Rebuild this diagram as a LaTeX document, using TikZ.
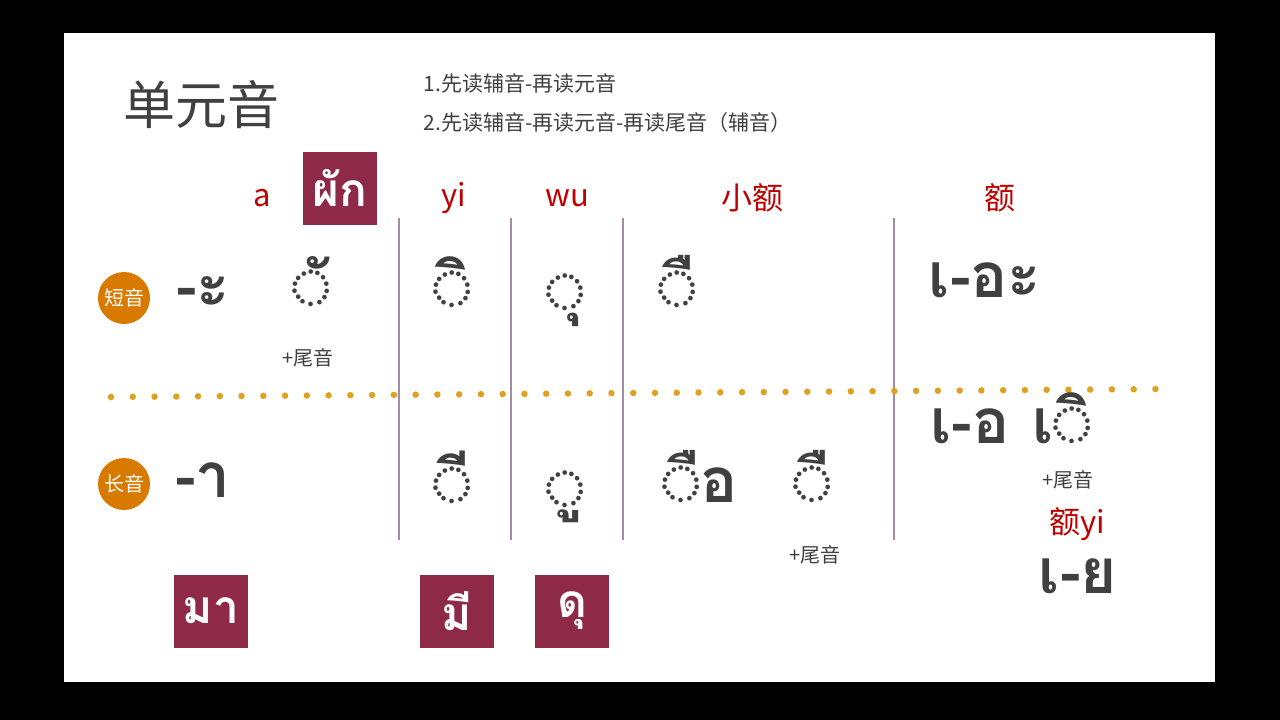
\documentclass[tikz,border=0pt]{standalone}
\usepackage{fontspec}
\setmainfont{Noto Sans CJK SC}
\newfontfamily\thaifont[Script=Thai]{Loma}
\newfontfamily\cjk{Noto Sans CJK SC}
\definecolor{txt}{HTML}{404040}
\definecolor{redl}{HTML}{C00000}
\definecolor{boxc}{HTML}{8E2A47}
\definecolor{vline}{HTML}{A58BA8}
\definecolor{org}{HTML}{E0A020}
\definecolor{circ}{HTML}{D97A00}
\begin{document}
\begin{tikzpicture}[x=1pt,y=-1pt,
  th/.style={font=\thaifont\fontsize{62}{62}\selectfont\bfseries,text=txt},
  lab/.style={font=\cjk\fontsize{31}{31}\selectfont,text=redl},
  small/.style={font=\cjk\fontsize{20}{20}\selectfont,text=txt},
  box/.style={fill=boxc,minimum width=74,minimum height=73,inner sep=0,text=white,font=\thaifont\fontsize{46}{46}\selectfont\bfseries},
  badge/.style={circle,fill=circ,minimum size=52,inner sep=0,text=white,font=\cjk\fontsize{20}{20}\selectfont},
  vl/.style={draw=vline,line width=2.2}]
\fill[black] (0,0) rectangle (1280,720);
\fill[white] (64,33) rectangle (1215,682);
\useasboundingbox (0,0) rectangle (1280,720);
\node[font=\cjk\fontsize{52}{52}\selectfont,text=txt,anchor=west] (title) at (120,105) {单元音};
\node[font=\cjk\fontsize{21}{21}\selectfont,text=txt,anchor=west] (l1) at (420,83) {1.先读辅音-再读元音};
\node[font=\cjk\fontsize{21}{21}\selectfont,text=txt,anchor=west] (l2) at (420,123) {2.先读辅音-再读元音-再读尾音（辅音）};
\node[lab] (ha) at (262,198) {a};
\node[lab] (hyi) at (454,198) {yi};
\node[lab] (hwu) at (567,198) {wu};
\node[lab] (hx) at (752,198) {小额};
\node[lab] (he) at (1000,198) {额};
\node[box] (b1) at (340,188) {ผัก};
\node[box] (b2) at (211,611) {มา};
\node[box] (b3) at (457,611) {มี};
\node[box] (b4) at (572,611) {ดุ};
\coordinate (v1a) at (399,218); \coordinate (v1b) at (399,540);
\coordinate (v2a) at (511,218); \coordinate (v2b) at (511,540);
\coordinate (v3a) at (623,218); \coordinate (v3b) at (623,540);
\coordinate (v4a) at (894,218); \coordinate (v4b) at (894,540);
\draw[vl] (v1a)--(v1b); \draw[vl] (v2a)--(v2b); \draw[vl] (v3a)--(v3b); \draw[vl] (v4a)--(v4b);
\coordinate (d1) at (111,397); \coordinate (d2) at (1162,389);
\draw[org,line width=6.5,line cap=round,dash pattern=on 0pt off 21.76pt] (d1)--(d2);
\node[badge] (s1) at (124,298) {短音};
\node[badge] (s2) at (124,484) {长音};
\node[th] (t1) at (203,292) {-ะ};
\node[th] (t2) at (311,282) {◌ั};
\node[small] (p1) at (308,358) {+尾音};
\node[th] (t3) at (452,282) {◌ิ};
\node[th] (t4) at (565,300) {◌ุ};
\node[th] (t5) at (677,282) {◌ื};
\node[th] (t6) at (985,280) {เ-อะ};
\node[th] (r1) at (203,480) {-า};
\node[th] (r2) at (452,477) {◌ี};
\node[th] (r3) at (565,497) {◌ู};
\node[th] (r4) at (700,477) {◌ือ};
\node[th] (r5) at (812,477) {◌ื};
\node[small] (p2) at (815,555) {+尾音};
\node[th] (r6) at (970,426) {เ-อ};
\node[th] (r7) at (1062,418) {เ◌ิ};
\node[small] (p3) at (1068,480) {+尾音};
\node[lab] (r8) at (1077,524) {额yi};
\node[th] (r9) at (1078,576) {เ-ย};
\end{tikzpicture}
\end{document}
